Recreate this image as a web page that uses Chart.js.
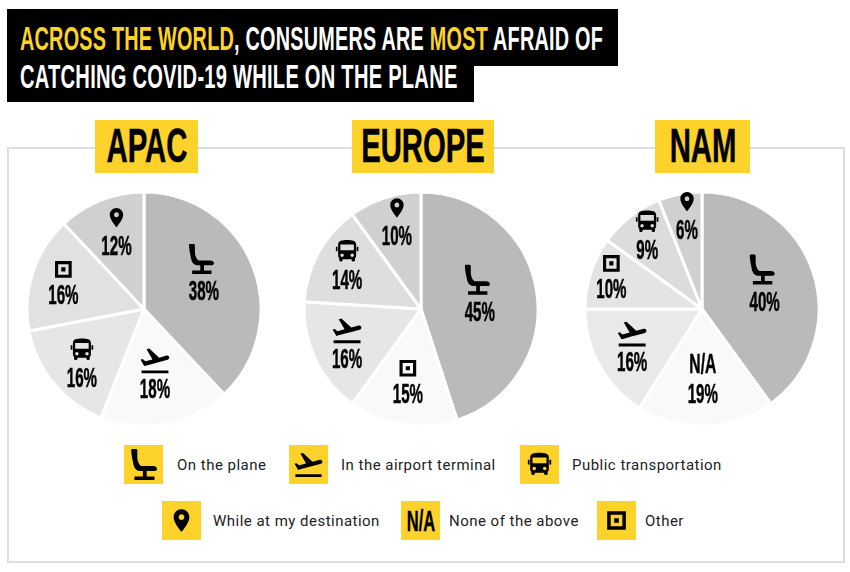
<!DOCTYPE html>
<html lang="en">
<head>
<meta charset="UTF-8">
<title>Covid-19 fears</title>
<script src="https://cdn.jsdelivr.net/npm/chart.js"></script>
<style>
  body { margin:0; background:#fff; width:850px; height:572px; position:relative; overflow:hidden; }
  .abs { position:absolute; }
  .black { background:#000; left:7px; }
  .cond { position:absolute; font-family:"Liberation Sans",sans-serif; font-weight:bold; white-space:nowrap; transform-origin:0 50%; }
  .head { color:#fff; font-size:34px; line-height:36px; left:20px; letter-spacing:.4px; }
  .head b { color:#fdd22b; }
  .tag { position:absolute; background:#fdd22b; top:120px; height:53px; }
  .tag span { position:absolute; left:50%; top:-1px; line-height:53px; font-family:"Liberation Sans",sans-serif; font-weight:bold; font-size:48px; transform:translateX(-50%) scaleX(.61); color:#000; white-space:nowrap; -webkit-text-stroke:.5px #000; }
  #frame { left:7px; top:147px; width:834px; height:412px; border:2px solid #ddd; }
  canvas { position:absolute; top:189px; }
  .box { position:absolute; width:39px; height:39px; background:#fdd22b; }
  .box svg { position:absolute; left:0; top:0; width:39px; height:39px; }
  .box span { position:absolute; left:50%; top:0; line-height:39px; font-family:"Liberation Sans",sans-serif; font-weight:bold; font-size:30px; transform:translateX(-50%) scaleX(.55); -webkit-text-stroke:.4px #000; }
  .txt { position:absolute; font-family:Roboto,sans-serif; font-size:15px; letter-spacing:.48px; color:#222; line-height:20px; white-space:nowrap; }
</style>
</head>
<body>
  <div class="abs black" style="top:9px;width:611px;height:57px"></div>
  <div class="abs black" style="top:66px;width:467px;height:36px"></div>
  <div class="cond head" style="top:20px;transform:scaleX(.583)"><b>ACROSS THE WORLD</b>, CONSUMERS ARE <b>MOST</b> AFRAID OF</div>
  <div class="cond head" style="top:58px;transform:scaleX(.592)">CATCHING COVID-19 WHILE ON THE PLANE</div>
  <div class="abs" id="frame"></div>
  <div id="tags"></div>
  <canvas id="pie0" width="240" height="240" style="left:24px"></canvas>
  <canvas id="pie1" width="240" height="240" style="left:301px"></canvas>
  <canvas id="pie2" width="240" height="240" style="left:582px"></canvas>
  <div id="legend"></div>
<script>
// data
const regions = ["APAC", "EUROPE", "NAM"]
const apacCats = ["plane", "terminal", "public", "other", "destination"]
const apacVals = [38, 18, 16, 16, 12]
const europeCats = ["plane", "other", "terminal", "public", "destination"]
const europeVals = [45, 15, 16, 14, 10]
const namCats = ["plane", "none", "terminal", "other", "public", "destination"]
const namVals = [40, 19, 16, 10, 9, 6]
const legendNames = {
  plane: "On the plane", terminal: "In the airport terminal", public: "Public transportation",
  destination: "While at my destination", none: "None of the above", other: "Other"
}

// layout, separate from data
const sliceColors = {
  0: ["#bababa", "#f9f9f9", "#e6e6e6", "#e1e1e1", "#d0d0d0"],
  1: ["#bababa", "#f9f9f9", "#e6e6e6", "#dedede", "#d0d0d0"],
  2: ["#bababa", "#f9f9f9", "#e9e9e9", "#e4e4e4", "#dcdcdc", "#d0d0d0"]
}
// label nudges away from each arc's middle point
const nudges = [
  [[5.5,5.500],[0,24],[-17,33.500],[-25,5.500],[-6,-7]],
  [[1,14],[-4,28.500],[-21,26.500],[-22.6,.5],[-6,-15.500]],
  [[7,12.500],[-1,28],[-18.6,26.500],[-35,-.5],[-19,-11],[-4,-20]]
]
const tagBoxes = [[95,103],[352,142],[655,95]]
const legendBoxes = [
  ["plane",124,445,177],["terminal",289,445,341],["public",520,445,572],
  ["destination",162,501,213],["none",401,501,449],["other",597,501,645]
]

const iconPaths = {
  plane: "M3 0h3.200c.6 0 1 .5 1 1v5c0 2.500 1 6 3 7.200h9.300c1.500 0 3 .9 3 2.300 0 .9-.8 1.500-1.700 1.500H14.500v4.200h6v2.800H5v-2.800h6.500V17H9C6 17 4.500 14 4 11 3.400 8 2.500 4 2.500 1c0-.5 0-1 .5-1z",
  terminal: "M2.500 19h19v2h-19zm19.570-9.360c-.21-.8-1.040-1.280-1.840-1.060L14.920 10l-6.900-6.430-1.930.51 4.140 7.170-4.970 1.330-1.970-1.540-1.450.39 1.820 3.160.77 1.330 1.600-.43 5.310-1.420 4.350-1.160L21 11.490c.81-.23 1.280-1.050 1.070-1.850z",
  public: "M4 16c0 .88.39 1.670 1 2.220V20c0 .55.45 1 1 1h1c.55 0 1-.45 1-1v-1h8v1c0 .55.45 1 1 1h1c.55 0 1-.45 1-1v-1.780c.61-.55 1-1.340 1-2.220V6c0-3.500-3.580-4-8-4s-8 .5-8 4v10zm3.500 1c-.83 0-1.500-.67-1.500-1.500S6.670 14 7.500 14s1.500.67 1.500 1.500S8.330 17 7.500 17zm9 0c-.83 0-1.500-.67-1.500-1.500s.67-1.500 1.500-1.500 1.500.67 1.500 1.500-.67 1.500-1.500 1.500zm1.500-6H6V6h12v5zM2 8h1.500v4H2zM20.500 8H22v4h-1.500z",
  destination: "M12 2C8.130 2 5 5.130 5 9c0 5.250 7 13 7 13s7-7.750 7-13c0-3.870-3.130-7-7-7zm0 9.500c-1.380 0-2.500-1.120-2.500-2.500s1.120-2.500 2.500-2.500 2.500 1.120 2.500 2.500-1.120 2.500-2.500 2.500z",
  other: "M4 4h16v16H4zM7 7v10h10V7zM10 10h4v4h-4z"
}
// icon size and its place above the percent text
const iconLook = {
  plane: { size:30, dx:-3, dy:-34 },
  terminal: { size:34, dx:0, dy:-30 },
  public: { size:27, dx:0, dy:-30 },
  destination: { size:23, dx:0, dy:-30 },
  other: { size:25, dx:0, dy:-27 },
  none: { dy:-30 }
}
const legendIconSize = { plane:31, terminal:33, public:28, destination:27, other:28 }

const condFont = '"Liberation Sans",sans-serif'
const sliceLabels = {
  id: "sliceLabels",
  afterDatasetsDraw(chart, args, opts) {
    const c = chart.ctx
    chart.getDatasetMeta(0).data.forEach((arc, i) => {
      const p = arc.getCenterPoint()
      const x = p.x + opts.nudges[i][0]
      const y = p.y + opts.nudges[i][1]
      const cat = opts.cats[i]
      const look = iconLook[cat]
      c.save()
      c.fillStyle = "#000"
      c.strokeStyle = "#000"
      c.lineWidth = .5
      c.textAlign = "center"
      c.textBaseline = "middle"
      c.font = "bold 27px " + condFont
      c.save()
      c.translate(x, y)
      c.scale(.56, 1)
      c.fillText(chart.data.datasets[0].data[i] + "%", 0, 0)
      c.strokeText(chart.data.datasets[0].data[i] + "%", 0, 0)
      c.restore()
      if (cat === "none") {
        c.translate(x, y + look.dy)
        c.scale(.58, 1)
        c.fillText("N/A", 0, 0)
        c.strokeText("N/A", 0, 0)
      } else {
        const s = look.size / 24
        c.translate(x + look.dx - look.size / 2, y + look.dy - look.size / 2)
        c.scale(s, s)
        c.fill(new Path2D(iconPaths[cat]), "evenodd")
      }
      c.restore()
    })
  }
}

const drawPie = (n, cats, vals) => {
  new Chart(document.getElementById("pie" + n), {
    type: "pie",
    data: {
      labels: cats.map(k => legendNames[k]),
      datasets: [{ data: vals, backgroundColor: sliceColors[n], borderColor: "#fff", borderWidth: 3, hoverOffset: 0 }]
    },
    options: {
      responsive: false,
      animation: false,
      radius: 117,
      events: [],
      plugins: {
        legend: { display: false },
        tooltip: { enabled: false },
        sliceLabels: { cats: cats, nudges: nudges[n] }
      }
    },
    plugins: [sliceLabels]
  })
}
drawPie(0, apacCats, apacVals)
drawPie(1, europeCats, europeVals)
drawPie(2, namCats, namVals)

// tags and legend
const tags = document.getElementById("tags")
regions.forEach((r, i) => {
  tags.insertAdjacentHTML("beforeend",
    `<div class="tag" style="left:${tagBoxes[i][0]}px;width:${tagBoxes[i][1]}px"><span>${r}</span></div>`)
})
const legend = document.getElementById("legend")
legendBoxes.forEach(([k, x, y, tx]) => {
  let inner = "<span>N/A</span>"
  if (k !== "none") {
    const s = legendIconSize[k], o = (39 - s) / 2
    inner = `<svg viewBox="0 0 39 39"><g transform="translate(${o} ${o}) scale(${s / 24})"><path fill-rule="evenodd" d="${iconPaths[k]}"/></g></svg>`
  }
  legend.insertAdjacentHTML("beforeend",
    `<div class="box" style="left:${x}px;top:${y}px">${inner}</div><div class="txt" style="left:${tx}px;top:${y + 10}px">${legendNames[k]}</div>`)
})
</script>
</body>
</html>
